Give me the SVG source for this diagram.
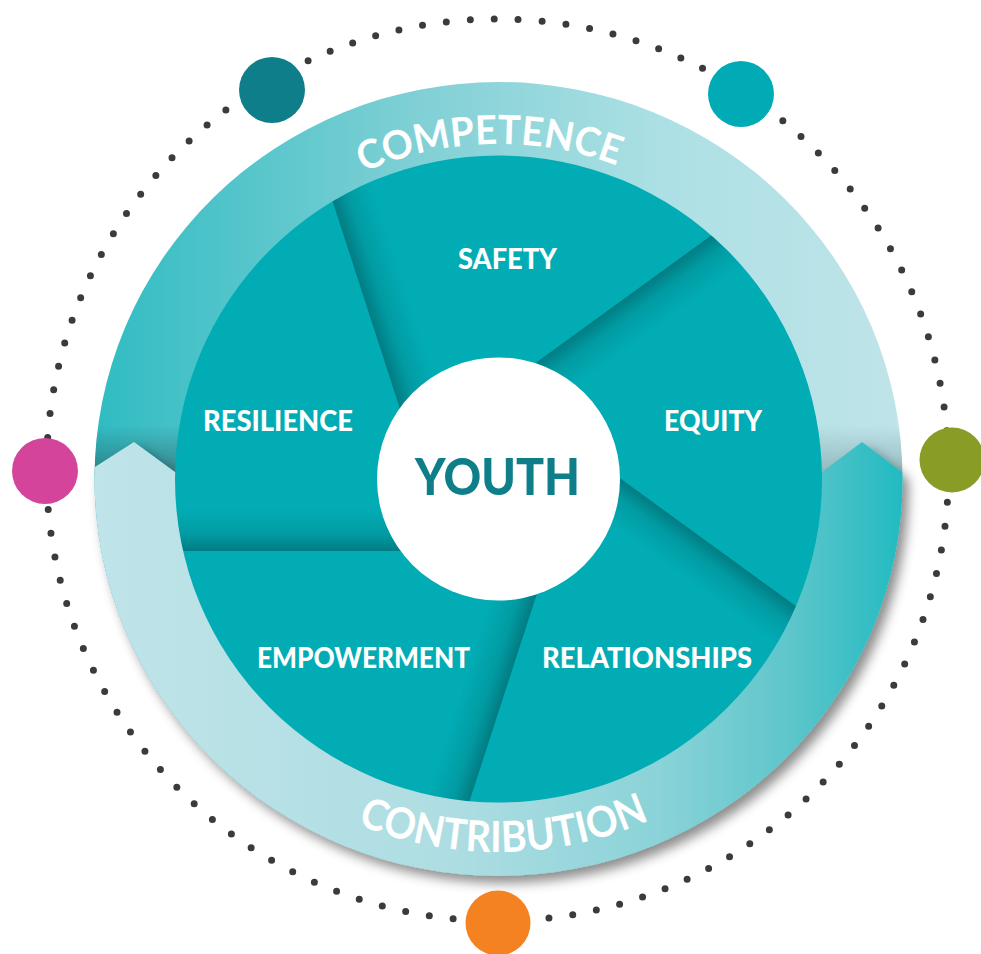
<svg xmlns="http://www.w3.org/2000/svg" width="981" height="954" viewBox="0 0 981 954">
  <style>
    .lbl { font-family: "Lato", "Inter", "Liberation Sans", sans-serif; font-weight: 900; font-size: 29px; fill: #ffffff; }
    .arc { font-family: "Lato", "Inter", "Liberation Sans", sans-serif; font-weight: 700; fill: #ffffff; }
  </style>
  <defs>
    <linearGradient id="ringTop" gradientUnits="userSpaceOnUse" x1="94" y1="0" x2="902" y2="0">
      <stop offset="0" stop-color="#2fbcc2"/>
      <stop offset="0.4" stop-color="#80d0d5"/>
      <stop offset="0.7" stop-color="#ace0e4"/>
      <stop offset="1" stop-color="#bfe4e9"/>
    </linearGradient>
    <linearGradient id="ringBot" gradientUnits="userSpaceOnUse" x1="94" y1="0" x2="902" y2="0">
      <stop offset="0" stop-color="#bfe4e9"/>
      <stop offset="0.45" stop-color="#addde2"/>
      <stop offset="0.7" stop-color="#8ad3d8"/>
      <stop offset="0.86" stop-color="#5ec6cb"/>
      <stop offset="1" stop-color="#22bbc1"/>
    </linearGradient>
    <linearGradient id="chevShadeL" gradientUnits="userSpaceOnUse" x1="0" y1="425" x2="0" y2="473">
      <stop offset="0" stop-color="#2a4a50" stop-opacity="0"/>
      <stop offset="1" stop-color="#2a4a50" stop-opacity="0.5"/>
    </linearGradient>
    <linearGradient id="chevShadeR" gradientUnits="userSpaceOnUse" x1="0" y1="425" x2="0" y2="473">
      <stop offset="0" stop-color="#3a5a60" stop-opacity="0"/>
      <stop offset="1" stop-color="#3a5a60" stop-opacity="0.3"/>
    </linearGradient>
    <linearGradient id="segShade" gradientUnits="userSpaceOnUse" x1="0" y1="509" x2="0" y2="551">
      <stop offset="0" stop-color="#003a3e" stop-opacity="0"/>
      <stop offset="0.6" stop-color="#003a3e" stop-opacity="0.15"/>
      <stop offset="1" stop-color="#003a3e" stop-opacity="0.42"/>
    </linearGradient>
    <clipPath id="below">
      <path d="M40,502 L134,442 L175,472 L822,472 L862,442 L950,508 L950,950 L40,950 Z"/>
    </clipPath>
    <clipPath id="ringClip">
      <ellipse cx="498.5" cy="479" rx="404" ry="397"/>
    </clipPath>
    <clipPath id="pieClip">
      <circle cx="498.5" cy="479" r="323.5"/>
    </clipPath>
    <filter id="ds" x="-10%" y="-10%" width="125%" height="130%">
      <feGaussianBlur in="SourceAlpha" stdDeviation="6"/>
      <feOffset dx="6" dy="7" result="b"/>
      <feFlood flood-color="#000000" flood-opacity="0.45"/>
      <feComposite in2="b" operator="in"/>
      <feMerge>
        <feMergeNode/>
        <feMergeNode in="SourceGraphic"/>
      </feMerge>
    </filter>
    <path id="arcTop" d="M163.5,479 A335,335 0 0 1 833.5,479"/>
    <path id="arcBot" d="M125.5,479 A373,373 0 0 0 871.5,479"/>
  </defs>

  <!-- dotted orbit -->
  <g id="orbit">
    <circle cx="497.5" cy="470" r="451" fill="none" stroke="#3b3b3d" stroke-width="7" stroke-linecap="round" stroke-dasharray="0 24.0146" stroke-dashoffset="15.7"/>
  </g>

  <!-- outer ring -->
  <g id="ring">
    <ellipse cx="498.5" cy="479" rx="404" ry="397" fill="url(#ringTop)"/>
    <g clip-path="url(#ringClip)">
      <rect x="80" y="425" width="110" height="50" fill="url(#chevShadeL)"/>
      <rect x="805" y="425" width="110" height="50" fill="url(#chevShadeR)"/>
    </g>
    <g filter="url(#ds)">
      <ellipse cx="498.5" cy="479" rx="404" ry="397" fill="url(#ringBot)" clip-path="url(#below)"/>
    </g>
  </g>

  <!-- pie -->
  <g id="pie">
    <circle cx="498.5" cy="479" r="323.5" fill="#01acb4"/>
    <g clip-path="url(#pieClip)">
      <rect x="150" y="509" width="348.5" height="42" fill="url(#segShade)"/>
      <rect x="150" y="509" width="348.5" height="42" fill="url(#segShade)" transform="rotate(72 498.5 479)"/>
      <rect x="150" y="509" width="348.5" height="42" fill="url(#segShade)" transform="rotate(144 498.5 479)"/>
      <rect x="150" y="509" width="348.5" height="42" fill="url(#segShade)" transform="rotate(216 498.5 479)"/>
      <rect x="150" y="509" width="348.5" height="42" fill="url(#segShade)" transform="rotate(288 498.5 479)"/>
    </g>
  </g>

  <g id="safety"><text class="lbl" x="458" y="269" textLength="99" lengthAdjust="spacingAndGlyphs">SAFETY</text></g>
  <g id="resilience"><text class="lbl" x="203" y="431" textLength="150" lengthAdjust="spacingAndGlyphs">RESILIENCE</text></g>
  <g id="equity"><text class="lbl" x="664" y="431" textLength="98" lengthAdjust="spacingAndGlyphs">EQUITY</text></g>
  <g id="empowerment"><text class="lbl" x="257" y="668" textLength="213" lengthAdjust="spacingAndGlyphs">EMPOWERMENT</text></g>
  <g id="relationships"><text class="lbl" x="542" y="668" textLength="210" lengthAdjust="spacingAndGlyphs">RELATIONSHIPS</text></g>

  <!-- centre -->
  <g id="youth">
    <circle cx="498.5" cy="479" r="121.5" fill="#ffffff"/>
    <text x="415" y="495" textLength="165" lengthAdjust="spacingAndGlyphs" style="font-family: 'Lato','Inter','Liberation Sans',sans-serif; font-weight: 900; font-size: 52px; fill: #0e7f89;">YOUTH</text>
  </g>

  <!-- arc labels -->
  <g id="competence">
    <text class="arc" font-size="40"><textPath href="#arcTop" startOffset="517" text-anchor="middle" textLength="260" lengthAdjust="spacingAndGlyphs">COMPETENCE</textPath></text>
  </g>
  <g id="contribution">
    <text class="arc" font-size="43"><textPath href="#arcBot" startOffset="591" text-anchor="middle" textLength="300" lengthAdjust="spacingAndGlyphs">CONTRIBUTION</textPath></text>
  </g>

  <!-- orbit markers -->
  <g id="marker-tl"><circle cx="272" cy="90" r="33" fill="#0e7f8a"/></g>
  <g id="marker-tr"><circle cx="741" cy="94" r="33" fill="#00abb5"/></g>
  <g id="marker-r"><circle cx="952" cy="460" r="32.5" fill="#899d26"/></g>
  <g id="marker-l"><circle cx="45" cy="471" r="33" fill="#d5449b"/></g>
  <g id="marker-b"><circle cx="498" cy="923" r="32.5" fill="#f58220"/></g>
</svg>
